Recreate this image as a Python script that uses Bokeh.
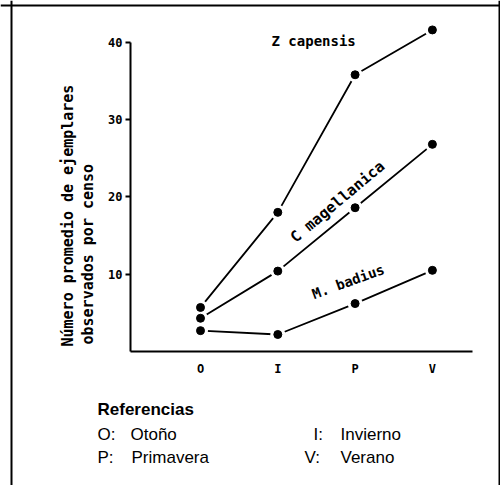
import math
from bokeh.plotting import figure
from bokeh.models import Label, Span, FixedTicker
from bokeh.embed import file_html
from bokeh.resources import INLINE

# ---- data ----
seasons = ["O", "I", "P", "V"]
z_capensis = [5.7, 18.0, 35.8, 41.6]
c_magellanica = [4.3, 10.4, 18.6, 26.8]
m_badius = [2.7, 2.2, 6.2, 10.5]
y_ticks = [10, 20, 30, 40]
y_title = ["Número promedio de ejemplares", "observados por censo"]
series_labels = ["Z  capensis", "C  magellanica", "M.  badius"]
ref_title = "Referencias"
ref_items = [("O:", "Otoño"), ("I:", "Invierno"), ("P:", "Primavera"), ("V:", "Verano")]

# ---- layout helpers (page pixel -> data) ----
W, H = 500, 485
X0_PX, DX_PX = 200.0, 77.3
Y0_PX, DY_PX = 351.0, 7.73


def xd(px):
    return (px - X0_PX) / DX_PX


def yd(py):
    return (Y0_PX - py) / DY_PX


p = figure(width=W, height=H, x_range=(xd(0), xd(W)), y_range=(yd(H), yd(0)),
           output_backend="svg", toolbar_location=None, min_border=0,
           outline_line_color=None, background_fill_color="white",
           border_fill_color="white")
p.grid.visible = False

MONO = "DejaVu Sans Mono"

# x axis
p.xaxis.fixed_location = 0
p.xaxis.bounds = (xd(130), xd(472))
p.xaxis.ticker = FixedTicker(ticks=list(range(len(seasons))))
p.xaxis.major_label_overrides = {i: s for i, s in enumerate(seasons)}
p.xaxis.major_tick_line_color = None
p.xaxis.minor_tick_line_color = None
p.xaxis.major_label_standoff = 4
p.xaxis.axis_line_width = 2
p.xaxis.major_label_text_font = MONO
p.xaxis.major_label_text_font_style = "bold"
p.xaxis.major_label_text_font_size = "12px"
p.xaxis.major_label_text_color = "black"

# y axis
p.yaxis.fixed_location = xd(130)
p.yaxis.bounds = (0, 40)
p.yaxis.ticker = FixedTicker(ticks=y_ticks)
p.yaxis.major_tick_out = 5
p.yaxis.major_tick_in = 0
p.yaxis.major_tick_line_width = 2
p.yaxis.minor_tick_line_color = None
p.yaxis.axis_line_width = 2
p.yaxis.major_label_standoff = 3
p.yaxis.major_label_text_font = MONO
p.yaxis.major_label_text_font_style = "bold"
p.yaxis.major_label_text_font_size = "12px"
p.yaxis.major_label_text_color = "black"

xs = list(range(len(seasons)))
all_series = [z_capensis, c_magellanica, m_badius]
for s in all_series:
    p.line(xs, s, line_color="black", line_width=1.8)
for s in all_series:
    p.scatter(xs, s, size=15, fill_color="white", line_color=None)
for s in all_series:
    p.scatter(xs, s, size=8, fill_color="black", line_color="black")

# y title
p.add_layout(Label(x=xd(67), y=yd(346), text=y_title[0], angle=math.pi / 2,
                   text_align="left", text_baseline="middle", text_font=MONO,
                   text_font_style="bold", text_font_size="15px", text_color="black"))
p.add_layout(Label(x=xd(87), y=yd(344), text=y_title[1], angle=math.pi / 2,
                   text_align="left", text_baseline="middle", text_font=MONO,
                   text_font_style="bold", text_font_size="15px", text_color="black"))

# series labels
for txt, (px, py), ang, fs in zip(series_labels,
                                  [(271, 40), (292, 239), (312, 294)],
                                  [0, 40, 20], ["14px", "15px", "14px"]):
    p.add_layout(Label(x=xd(px), y=yd(py), text=txt, angle=math.radians(ang),
                       text_align="left", text_baseline="alphabetic", text_font=MONO,
                       text_font_style="bold", text_font_size=fs, text_color="black"))

# references
SANS = "Liberation Sans"
p.add_layout(Label(x=xd(97), y=yd(409), text=ref_title, text_align="left",
                   text_baseline="middle", text_font=SANS, text_font_style="bold",
                   text_font_size="17px", text_color="black"))
pos = {"O:": (97, 130, 434), "I:": (313, 340, 434), "P:": (97, 131, 457), "V:": (304, 340, 457)}
for key, name in ref_items:
    kx, nx, ry = pos[key]
    p.add_layout(Label(x=xd(kx), y=yd(ry), text=key, text_align="left",
                       text_baseline="middle", text_font=SANS,
                       text_font_size="17px", text_color="black"))
    p.add_layout(Label(x=xd(nx), y=yd(ry), text=name, text_align="left",
                       text_baseline="middle", text_font=SANS,
                       text_font_size="17px", text_color="black"))

# outer frame lines
p.add_layout(Span(location=xd(11), dimension="height", line_color="black", line_width=2))
p.add_layout(Span(location=xd(499), dimension="height", line_color="black", line_width=2))
p.add_layout(Span(location=yd(5), dimension="width", line_color="black", line_width=2))

open("out.html", "w").write(file_html(p, INLINE))
